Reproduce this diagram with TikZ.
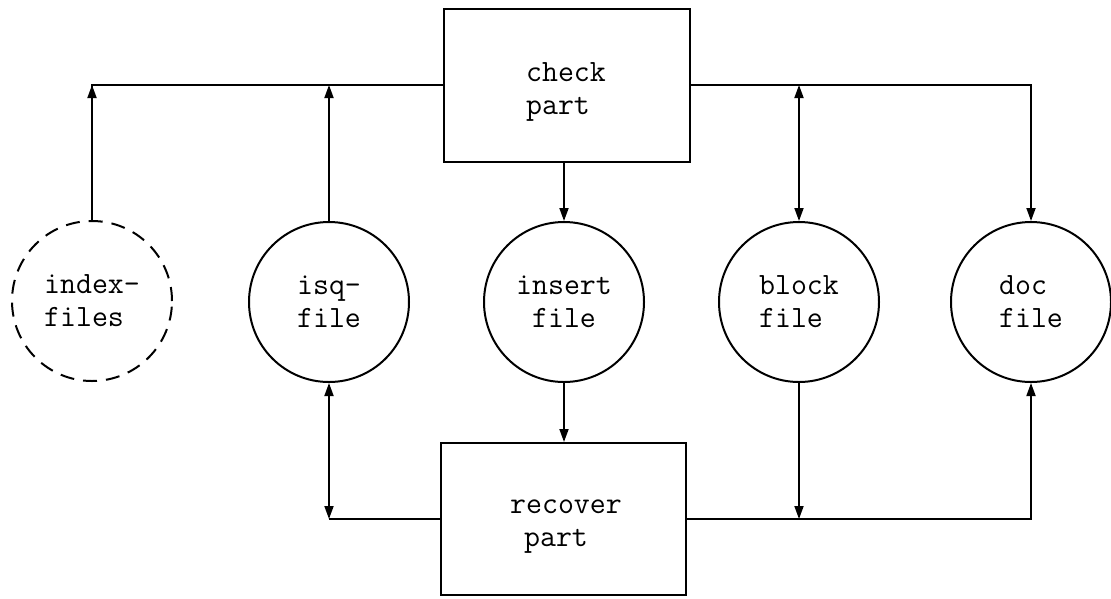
\documentclass[tikz,border=0pt]{standalone}
\usetikzlibrary{arrows.meta}
\begin{document}
\begin{tikzpicture}[x=1pt,y=-1pt,
  every node/.style={font=\fontsize{31}{33}\selectfont\ttfamily},
  filecirc/.style={circle,draw,line width=2pt,minimum size=160pt,inner sep=0pt,align=left},
  partbox/.style={rectangle,draw,line width=2pt,minimum width=246pt,minimum height=153pt,inner sep=0pt},
  boxtext/.style={align=left,inner sep=0pt},
  conn/.style={line width=1.8pt},
  tip/.style={-{Triangle[length=13pt,width=9pt]}},
  tips/.style={{Triangle[length=13pt,width=9pt]}-{Triangle[length=13pt,width=9pt]}}
]
\useasboundingbox (0,0) rectangle (1111,598);
\node[partbox] (check) at (566.5,85) {};
\node[boxtext] (checktxt) at (566,92) {check\\part};
\node[partbox,minimum width=245pt,minimum height=152pt] (recover) at (563.5,519) {};
\node[boxtext] (recovertxt) at (566,527) {recover\\\hspace*{0.45em}part};
\node[filecirc,dash pattern=on 14pt off 9pt] (idx) at (92,301) {index-\\files};
\node[filecirc] (isq) at (329,302) {isq-\\file};
\node[filecirc,align=center] (ins) at (564,302) {insert\\file};
\node[filecirc] (blk) at (799,302) {block\\file};
\node[filecirc] (doc) at (1031,302) {doc\\file};

% top connections
\draw[conn] (check.west) -| (idx.north);
\draw[conn,tip] (idx.north) -- (idx.north |- check.west);
\draw[conn,tip] (isq.north) -- (isq.north |- check.west);
\draw[conn,tip] (check.south -| ins.north) -- (ins.north);
\draw[conn,tip] (check.east) -| (doc.north);
\draw[conn,tips] (blk.north |- check.east) -- (blk.north);

% bottom connections
\draw[conn,tip] (ins.south) -- (ins.south |- recover.north);
\draw[conn,tips] (isq.south) -- (isq.south |- recover.west);
\draw[conn] (isq.south |- recover.west) -- (recover.west);
\draw[conn,tip] (blk.south) -- (blk.south |- recover.east);
\draw[conn,tip] (recover.east) -| (doc.south);
\end{tikzpicture}
\end{document}
